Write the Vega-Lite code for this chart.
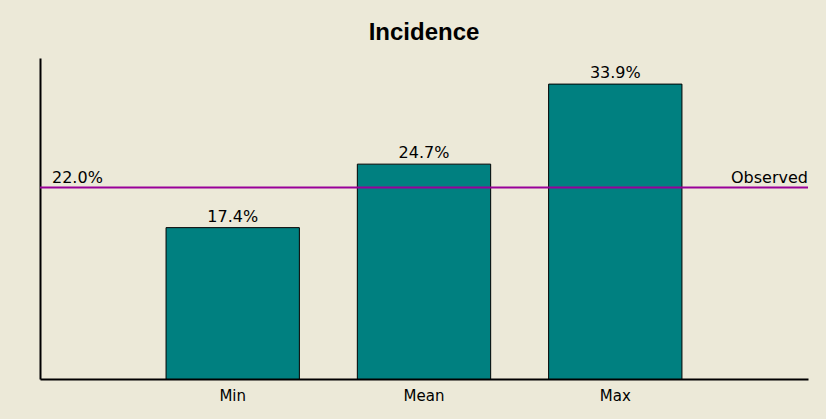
{
  "$schema": "https://vega.github.io/schema/vega-lite/v6.json",
  "width": 768,
  "height": 321,
  "autosize": "none",
  "padding": {"left": 40, "top": 58, "right": 18, "bottom": 40},
  "background": "#ECE9D8",
  "title": {
    "text": "Incidence",
    "font": "Liberation Sans",
    "fontSize": 24,
    "fontWeight": "bold",
    "color": "#000000",
    "anchor": "middle",
    "baseline": "alphabetic",
    "offset": 17,
    "dy": 23
  },
  "config": {
    "view": {"stroke": null},
    "text": {"font": "DejaVu Sans", "fontSize": 16, "color": "#000000"}
  },
  "layer": [
    {
      "data": {
        "values": [
          {"stat": "Min", "incidence": 0.174},
          {"stat": "Mean", "incidence": 0.247},
          {"stat": "Max", "incidence": 0.339}
        ]
      },
      "encoding": {
        "x": {
          "field": "stat",
          "type": "nominal",
          "sort": ["Min", "Mean", "Max"],
          "scale": {"paddingInner": 0.303, "paddingOuter": 0.659},
          "axis": {
            "title": null,
            "ticks": false,
            "domainColor": "#000000",
            "domainWidth": 2,
            "labelAngle": 0,
            "labelFont": "DejaVu Sans",
            "labelFontSize": 15,
            "labelColor": "#000000",
            "labelPadding": 9
          }
        },
        "y": {
          "field": "incidence",
          "type": "quantitative",
          "scale": {"domain": [0, 0.369], "nice": false},
          "axis": {
            "title": null,
            "labels": false,
            "ticks": false,
            "grid": false,
            "domainColor": "#000000",
            "domainWidth": 2
          }
        }
      },
      "layer": [
        {
          "mark": {"type": "bar", "fill": "#008080", "stroke": "#000000", "strokeWidth": 1}
        },
        {
          "mark": {"type": "text", "baseline": "alphabetic", "dy": -6},
          "encoding": {"text": {"field": "incidence", "type": "quantitative", "format": ".1%"}}
        }
      ]
    },
    {
      "data": {"values": [{"label": "Observed", "incidence": 0.22}]},
      "encoding": {
        "y": {"field": "incidence", "type": "quantitative"}
      },
      "layer": [
        {
          "mark": {"type": "rule", "color": "#990099", "strokeWidth": 2}
        },
        {
          "mark": {"type": "text", "align": "left", "baseline": "alphabetic", "dx": 12, "dy": -5},
          "encoding": {
            "x": {"value": 0},
            "text": {"field": "incidence", "type": "quantitative", "format": ".1%"}
          }
        },
        {
          "mark": {"type": "text", "align": "right", "baseline": "alphabetic", "dy": -5},
          "encoding": {
            "x": {"value": "width"},
            "text": {"field": "label", "type": "nominal"}
          }
        }
      ]
    }
  ]
}
